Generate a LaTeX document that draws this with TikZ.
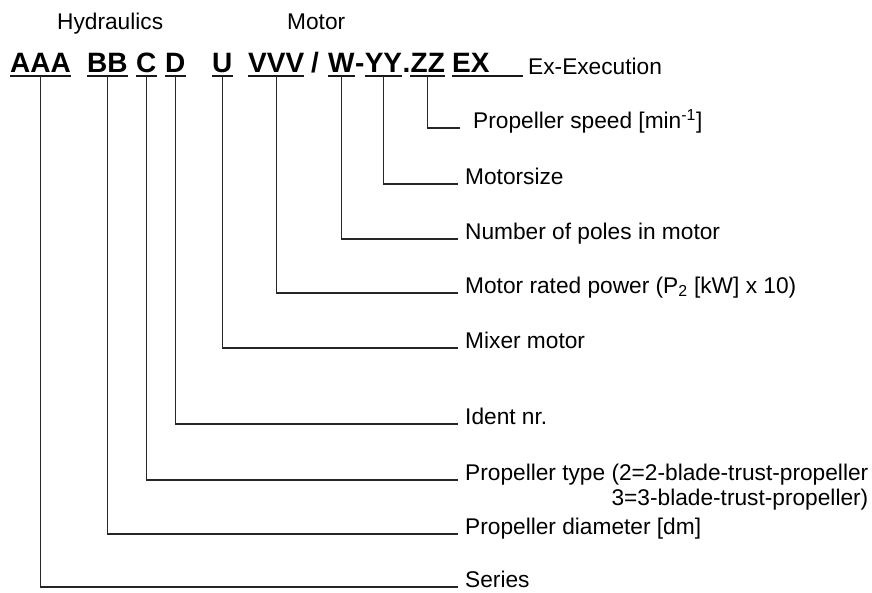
\documentclass[tikz,border=0pt]{standalone}
\usepackage{fontspec}
\setmainfont{Liberation Sans}
\begin{document}
\begin{tikzpicture}[x=1pt,y=-1pt,
  code/.style={font=\fontsize{28}{32}\selectfont\bfseries, inner sep=0pt, anchor=base west},
  lbl/.style={font=\fontsize{22.7}{26}\selectfont, inner sep=0pt, anchor=base west},
  conn/.style={line width=1.3pt, black!85},
  uline/.style={line width=2pt, black!90}]
\useasboundingbox (0,0) rectangle (872,592);
% group headings
\node[lbl] (hyd) at (57,29) {Hydraulics};
\node[lbl] (mot) at (287,29) {Motor};
% type code
\node[code] (aaa) at (10,72) {AAA};
\node[code] (bb) at (87,72) {BB};
\node[code] (c) at (136,72) {C};
\node[code] (d) at (165,72) {D};
\node[code] (u) at (212,72) {U};
\node[code] (vvv) at (248,72) {VVV};
\node[code] (sl) at (311,72) {/};
\node[code] (w) at (328,72) {W};
\node[code] (dash) at (w.base east) {-};
\node[code] (yy) at (dash.base east) {YY};
\node[code] (dot) at (yy.base east) {.};
\node[code] (zz) at (dot.base east) {ZZ};
\node[code] (ex) at (452,72) {EX};
\foreach \n in {aaa,bb,c,d,u,vvv,w,yy,zz}
  \draw[uline] ([yshift=-3.5pt]\n.base west) -- ([yshift=-3.5pt]\n.base east);
% labels
\node[lbl] (exe) at (528,74) {Ex-Execution};
\node[lbl] (spd) at (473,128) {Propeller speed [min\textsuperscript{-1}]};
\node[lbl] (msz) at (465,184) {Motorsize};
\node[lbl] (pol) at (465,239) {Number of poles in motor};
\node[lbl] (pow) at (465,293) {Motor rated power (P\textsubscript{2} [kW] x 10)};
\node[lbl] (mix) at (465,348) {Mixer motor};
\node[lbl] (idn) at (465,424) {Ident nr.};
\node[lbl] (ptp) at (465,480) {Propeller type (2=2-blade-trust-propeller};
\node[lbl, anchor=base east] (ptp2) at (ptp.base east |- 0,505) {3=3-blade-trust-propeller)};
\node[lbl] (dia) at (465,534) {Propeller diameter [dm]};
\node[lbl] (ser) at (465,587) {Series};
% connectors
\draw[uline] ([yshift=-3.5pt]ex.base west) -- ([xshift=-5pt,yshift=-1.5pt]exe.base west);
\draw[conn] ([yshift=-4pt]zz.base) |- ([xshift=-13pt]spd.base west);
\draw[conn] ([yshift=-4pt]yy.base) |- ([xshift=-7pt]msz.base west);
\draw[conn] ([yshift=-4pt]w.base) |- ([xshift=-7pt]pol.base west);
\draw[conn] ([yshift=-4pt]vvv.base) |- ([xshift=-7pt]pow.base west);
\draw[conn] ([yshift=-4pt]u.base) |- ([xshift=-7pt]mix.base west);
\draw[conn] ([yshift=-4pt]d.base) |- ([xshift=-7pt]idn.base west);
\draw[conn] ([yshift=-4pt]c.base) |- ([xshift=-7pt]ptp.base west);
\draw[conn] ([yshift=-4pt]bb.base) |- ([xshift=-7pt]dia.base west);
\draw[conn] ([yshift=-4pt]aaa.base) |- ([xshift=-7pt]ser.base west);
\end{tikzpicture}
\end{document}
